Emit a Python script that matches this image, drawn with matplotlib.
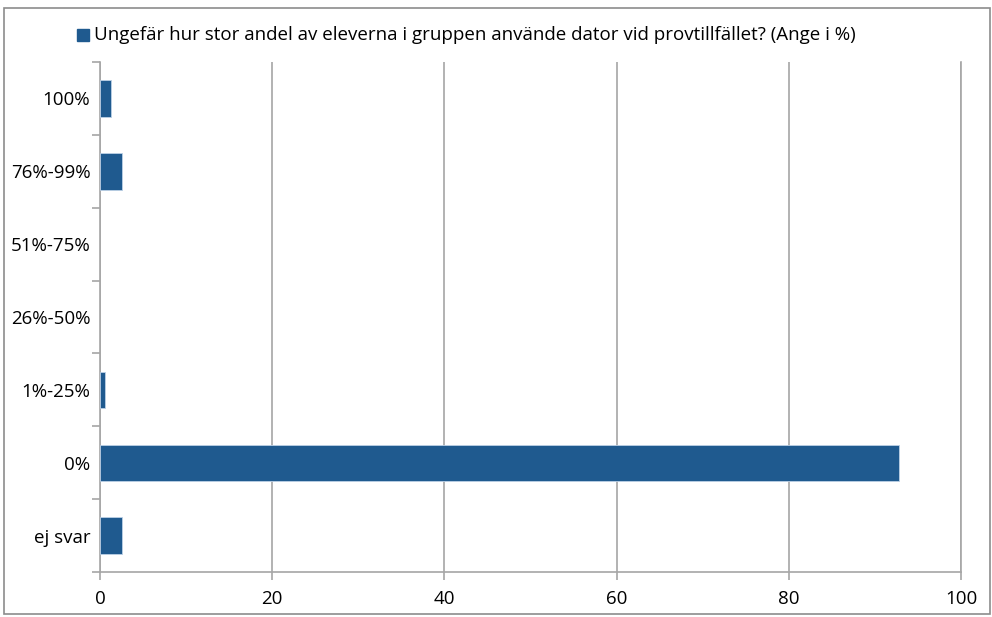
import numpy as np
import matplotlib
matplotlib.use("Agg")
import matplotlib.pyplot as plt
from matplotlib.patches import Rectangle

# data (top to bottom as in the chart)
categories = ["100%", "76%-99%", "51%-75%", "26%-50%", "1%-25%", "0%", "ej svar"]
values = [1.3, 2.6, 0.0, 0.0, 0.6, 92.8, 2.6]
series_name = "Ungefär hur stor andel av eleverna i gruppen använde dator vid provtillfället? (Ange i %)"
xticks = [0, 20, 40, 60, 80, 100]

bar_color = "#1F5A8F"
grid_color = "#A6A6A6"
fs = 13.5

plt.rcParams['font.family'] = ['Open Sans', 'DejaVu Sans']

fig = plt.figure(figsize=(9.92, 6.17), dpi=100)
ax = fig.add_axes([100 / 992, 1 - 572 / 617, 861 / 992, 510 / 617])

n = len(categories)
ypos = np.arange(n)[::-1]
# no outline on empty bars
lws = [0.6 if v > 0 else 0 for v in values]
ax.barh(ypos, values, height=0.5, color=bar_color, edgecolor="#BCD0E6", linewidth=lws, zorder=3)

ax.set_xlim(0, 100)
ax.set_ylim(-0.5, n - 0.5)
ax.set_xticks(xticks)
ax.set_xticklabels([str(t) for t in xticks], fontsize=fs)
ax.xaxis.grid(True, color=grid_color, linewidth=1.2, zorder=0)

# category labels centered, ticks at boundaries
ax.set_yticks(ypos)
ax.set_yticklabels(categories, fontsize=fs)
ax.tick_params(axis='y', length=0, pad=7)
ax.set_yticks(np.arange(-0.5, n, 1.0), minor=True)
ax.tick_params(axis='y', which='minor', length=6, color=grid_color, width=1.2)
ax.tick_params(axis='x', length=6, color=grid_color, width=1.2, pad=7)

ax.spines['top'].set_visible(False)
for s in ['left', 'bottom', 'right']:
    ax.spines[s].set_color(grid_color)
    ax.spines[s].set_linewidth(1.2)

# legend
fig.patches.append(Rectangle((77 / 992, 1 - 41 / 617), 12 / 992, 12 / 617,
                             transform=fig.transFigure, color=bar_color))
fig.text(94 / 992, 1 - 35 / 617, series_name, fontsize=fs, va='center', ha='left')

# outer border
fig.patches.append(Rectangle((4 / 992, 1 - 614 / 617), 986 / 992, 606 / 617,
                             transform=fig.transFigure, fill=False,
                             edgecolor="#8C8C8C", linewidth=1.2))

fig.savefig("out.png", dpi=100)
